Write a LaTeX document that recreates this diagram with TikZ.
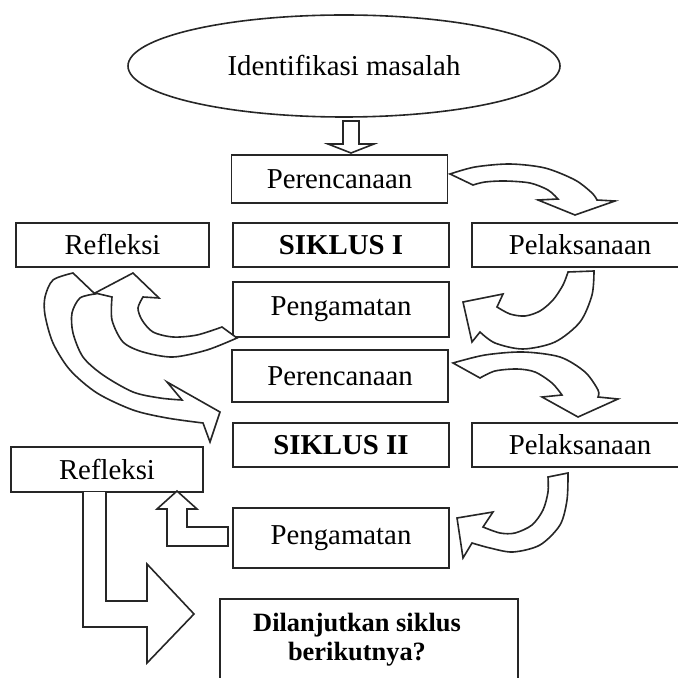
\documentclass[tikz,border=0pt]{standalone}
\usepackage{fontspec}
\setmainfont{Liberation Serif}
\usetikzlibrary{shapes.geometric}

\begin{document}
\begin{tikzpicture}[x=0.5pt,y=-0.5pt,font=\fontsize{14.4}{17}\selectfont]
\tikzstyle{box} = [draw=black!85, line width=0.8pt, rectangle, inner sep=0pt, minimum width=108pt]
\tikzstyle{oval} = [draw=black!85, line width=0.8pt, ellipse, inner sep=0pt, minimum width=216pt, minimum height=51pt]
\tikzstyle{barrow} = [draw=black!85, line width=0.8pt, fill=white, line join=miter]

\useasboundingbox (0,0) rectangle (677,678);

\node[oval] (ident) at (344,66) {Identifikasi masalah};

\node[box, minimum height=24pt] (per1) at (339.5,179) {Perencanaan};
\node[box, minimum width=96.5pt, minimum height=22pt] (ref1) at (112.5,245) {Refleksi};
\node[box, minimum height=22pt] (sik1) at (341,245) {\textbf{SIKLUS I}};
\node[box, minimum height=22pt] (pel1) at (580,245) {Pelaksanaan};
\node[box, minimum height=27.5pt] (peng1) at (341,309.5) {Pengamatan};

\node[box, minimum height=26pt] (per2) at (340,376) {Perencanaan};
\node[box, minimum height=22pt] (sik2) at (341,445) {\textbf{SIKLUS II}};
\node[box, minimum height=22pt] (pel2) at (580,445) {Pelaksanaan};
\node[box, minimum width=96pt, minimum height=22.5pt] (ref2) at (107,469.5) {Refleksi};
\node[box, minimum height=30pt] (peng2) at (341,538) {Pengamatan};

\node[box, anchor=north, minimum width=149pt, minimum height=60pt] (dil) at (369,598) {};
\node[align=center, font=\fontsize{13.2}{14.5}\selectfont\bfseries] (dilText) at (357,640) {Dilanjutkan siklus\\berikutnya?};

% identifikasi -> perencanaan
\draw[barrow] (343,121) -- (343,144) -- (328,144) -- (351,153) -- (374,144) -- (359,144) -- (359,121) -- cycle;

% siklus I
\draw[barrow] plot[smooth] coordinates {(450,174) (475,167) (510,164) (545,168) (575,180) (592,193) (597,200)}
  -- (615,201) -- (575,215) -- (538,200)
  -- plot[smooth] coordinates {(558,199) (548,190) (530,183) (505,181) (485,182) (473,185)} -- cycle;
\draw[barrow] plot[smooth] coordinates {(594,271) (592,295) (580,322) (555,342) (523,349) (495,343) (480,332)}
  -- (472,342) -- (463,302) -- (503,294)
  -- plot[smooth] coordinates {(497,307) (510,314) (525,316) (540,311) (553,300) (563,285) (568,272)} -- cycle;
\draw[barrow] plot[smooth] coordinates {(73,273) (53,280) (45,297) (45,315) (53,343) (70,370) (97,393) (133,410) (167,418) (203,423)}
  -- (210,442) -- (220,412) -- (167,382)
  -- plot[smooth] coordinates {(182,400) (160,398) (133,392) (103,375) (83,357) (73,333) (72,313) (80,298) (95,294)} -- cycle;
\draw[barrow] plot[smooth] coordinates {(237,338) (207,350) (173,357) (143,352) (123,342) (112,320) (112,297)}
  -- (95,293) -- (133,273) -- (159,298)
  -- plot[smooth] coordinates {(143,297) (138,308) (142,320) (153,332) (173,337) (197,335) (222,327)} -- cycle;

% siklus II
\draw[barrow] plot[smooth] coordinates {(453,363) (485,355) (523,352) (560,357) (585,372) (598,390) (598,397)}
  -- (618,399) -- (578,417) -- (542,397)
  -- plot[smooth] coordinates {(562,395) (552,383) (535,372) (517,369) (495,371) (480,378)} -- cycle;
\draw[barrow] plot[smooth] coordinates {(568,473) (567,500) (560,525) (540,545) (513,552) (490,548) (472,543)}
  -- (463,558) -- (457,518) -- (493,512)
  -- plot[smooth] coordinates {(483,527) (500,533) (515,533) (532,525) (543,510) (548,492) (548,477)} -- cycle;
\draw[barrow] (228,527) -- (187,527) -- (187,509) -- (197,509) -- (177,491) -- (157,509) -- (167,509) -- (167,546) -- (228,546) -- cycle;
\draw[barrow] (106,492) -- (106,601) -- (147,601) -- (147,564) -- (194,614) -- (147,663) -- (147,627) -- (83,627) -- (83,492);
\end{tikzpicture}
\end{document}
